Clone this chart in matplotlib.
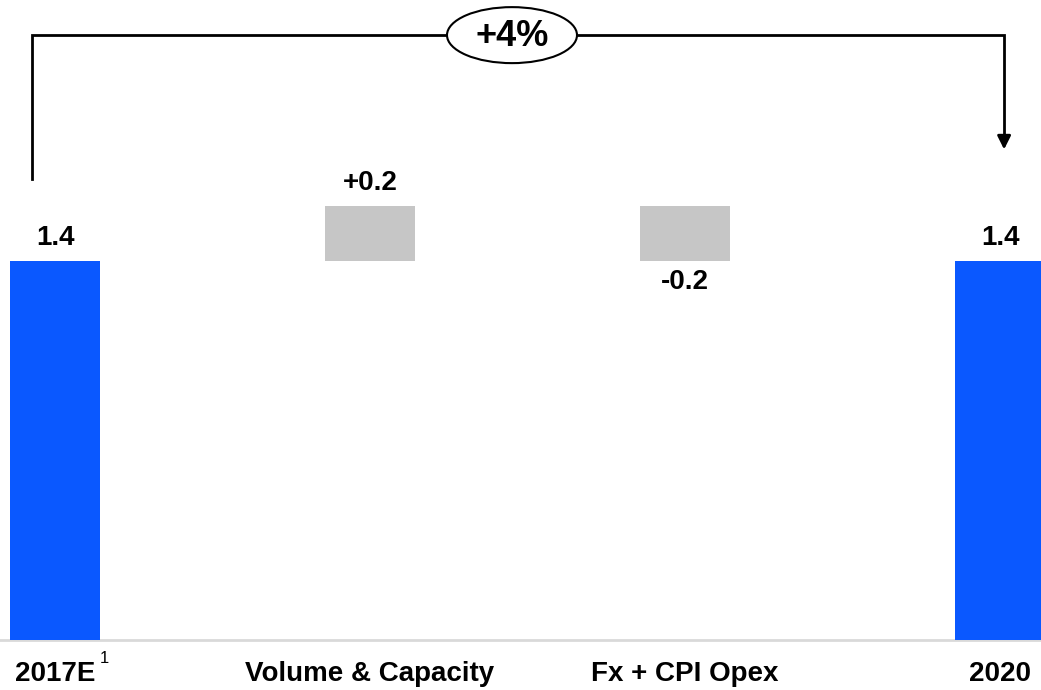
import matplotlib.pyplot as plt
from matplotlib.patches import Ellipse

# data
categories = ["2017E", "Volume & Capacity", "Fx + CPI Opex", "2020"]
values = [1.4, 0.2, -0.2, 1.4]
kinds = ["total", "delta", "delta", "total"]
value_labels = ["1.4", "+0.2", "-0.2", "1.4"]
growth_label = "+4%"

BLUE = "#0A58FF"
GREY = "#C6C6C6"

plt.rcParams['font.family'] = ['Liberation Sans', 'DejaVu Sans']

fig = plt.figure(figsize=(10.41, 6.9), dpi=100)
ax = fig.add_axes([0, 0, 1, 1])

# pixel-matched scale: 315 px per category, 271 px per unit
ax.set_xlim(-55 / 315, (1041 - 55) / 315)
ax.set_ylim(-50 / 271, 640 / 271)
ax.axis("off")

width = 90 / 315
running = 0.0
for i, (v, k, lab) in enumerate(zip(values, kinds, value_labels)):
    if k == "total":
        bottom, height, color = 0, v, BLUE
        running = v
    else:
        bottom = running if v > 0 else running + v
        height = abs(v)
        color = GREY
        running += v
    ax.bar(i, height, bottom=bottom, width=width, color=color, zorder=2)
    if k == "delta" and v < 0:
        ax.text(i, bottom - 0.078, lab, ha="center", va="center",
                fontsize=20, fontweight="bold")
    else:
        ax.text(i, bottom + height + 0.085, lab, ha="center", va="center",
                fontsize=20, fontweight="bold")

# gray baseline
ax.axhline(0, color="#D9D9D9", lw=2, zorder=1)

# category labels
for i, c in enumerate(categories):
    ax.text(i, -0.124, c, ha="center", va="center", fontsize=20,
            fontweight="bold")
ax.text(0.143, -0.068, "1", ha="left", va="center", fontsize=12)

# CAGR bracket
x0, x1 = -0.073, 3.013
y_top = 2.232
ax.plot([x0, x0, x1, x1], [1.70, y_top, y_top, 1.86], color="black",
        lw=2, zorder=3, solid_joinstyle="miter")
ax.annotate("", xy=(x1, 1.80), xytext=(x1, 1.87),
            arrowprops=dict(arrowstyle="-|>,head_length=0.8,head_width=0.4",
                            color="black", lw=2))
xm = 512 / 315 - 55 / 315
ax.add_patch(Ellipse((xm, y_top), 130 / 315, 56 / 271,
                     facecolor="white", edgecolor="black", lw=1.5, zorder=4))
ax.text(xm, y_top - 0.005, growth_label, ha="center", va="center", fontsize=26,
        fontweight="bold", zorder=5)

fig.savefig("out.png", dpi=100)
